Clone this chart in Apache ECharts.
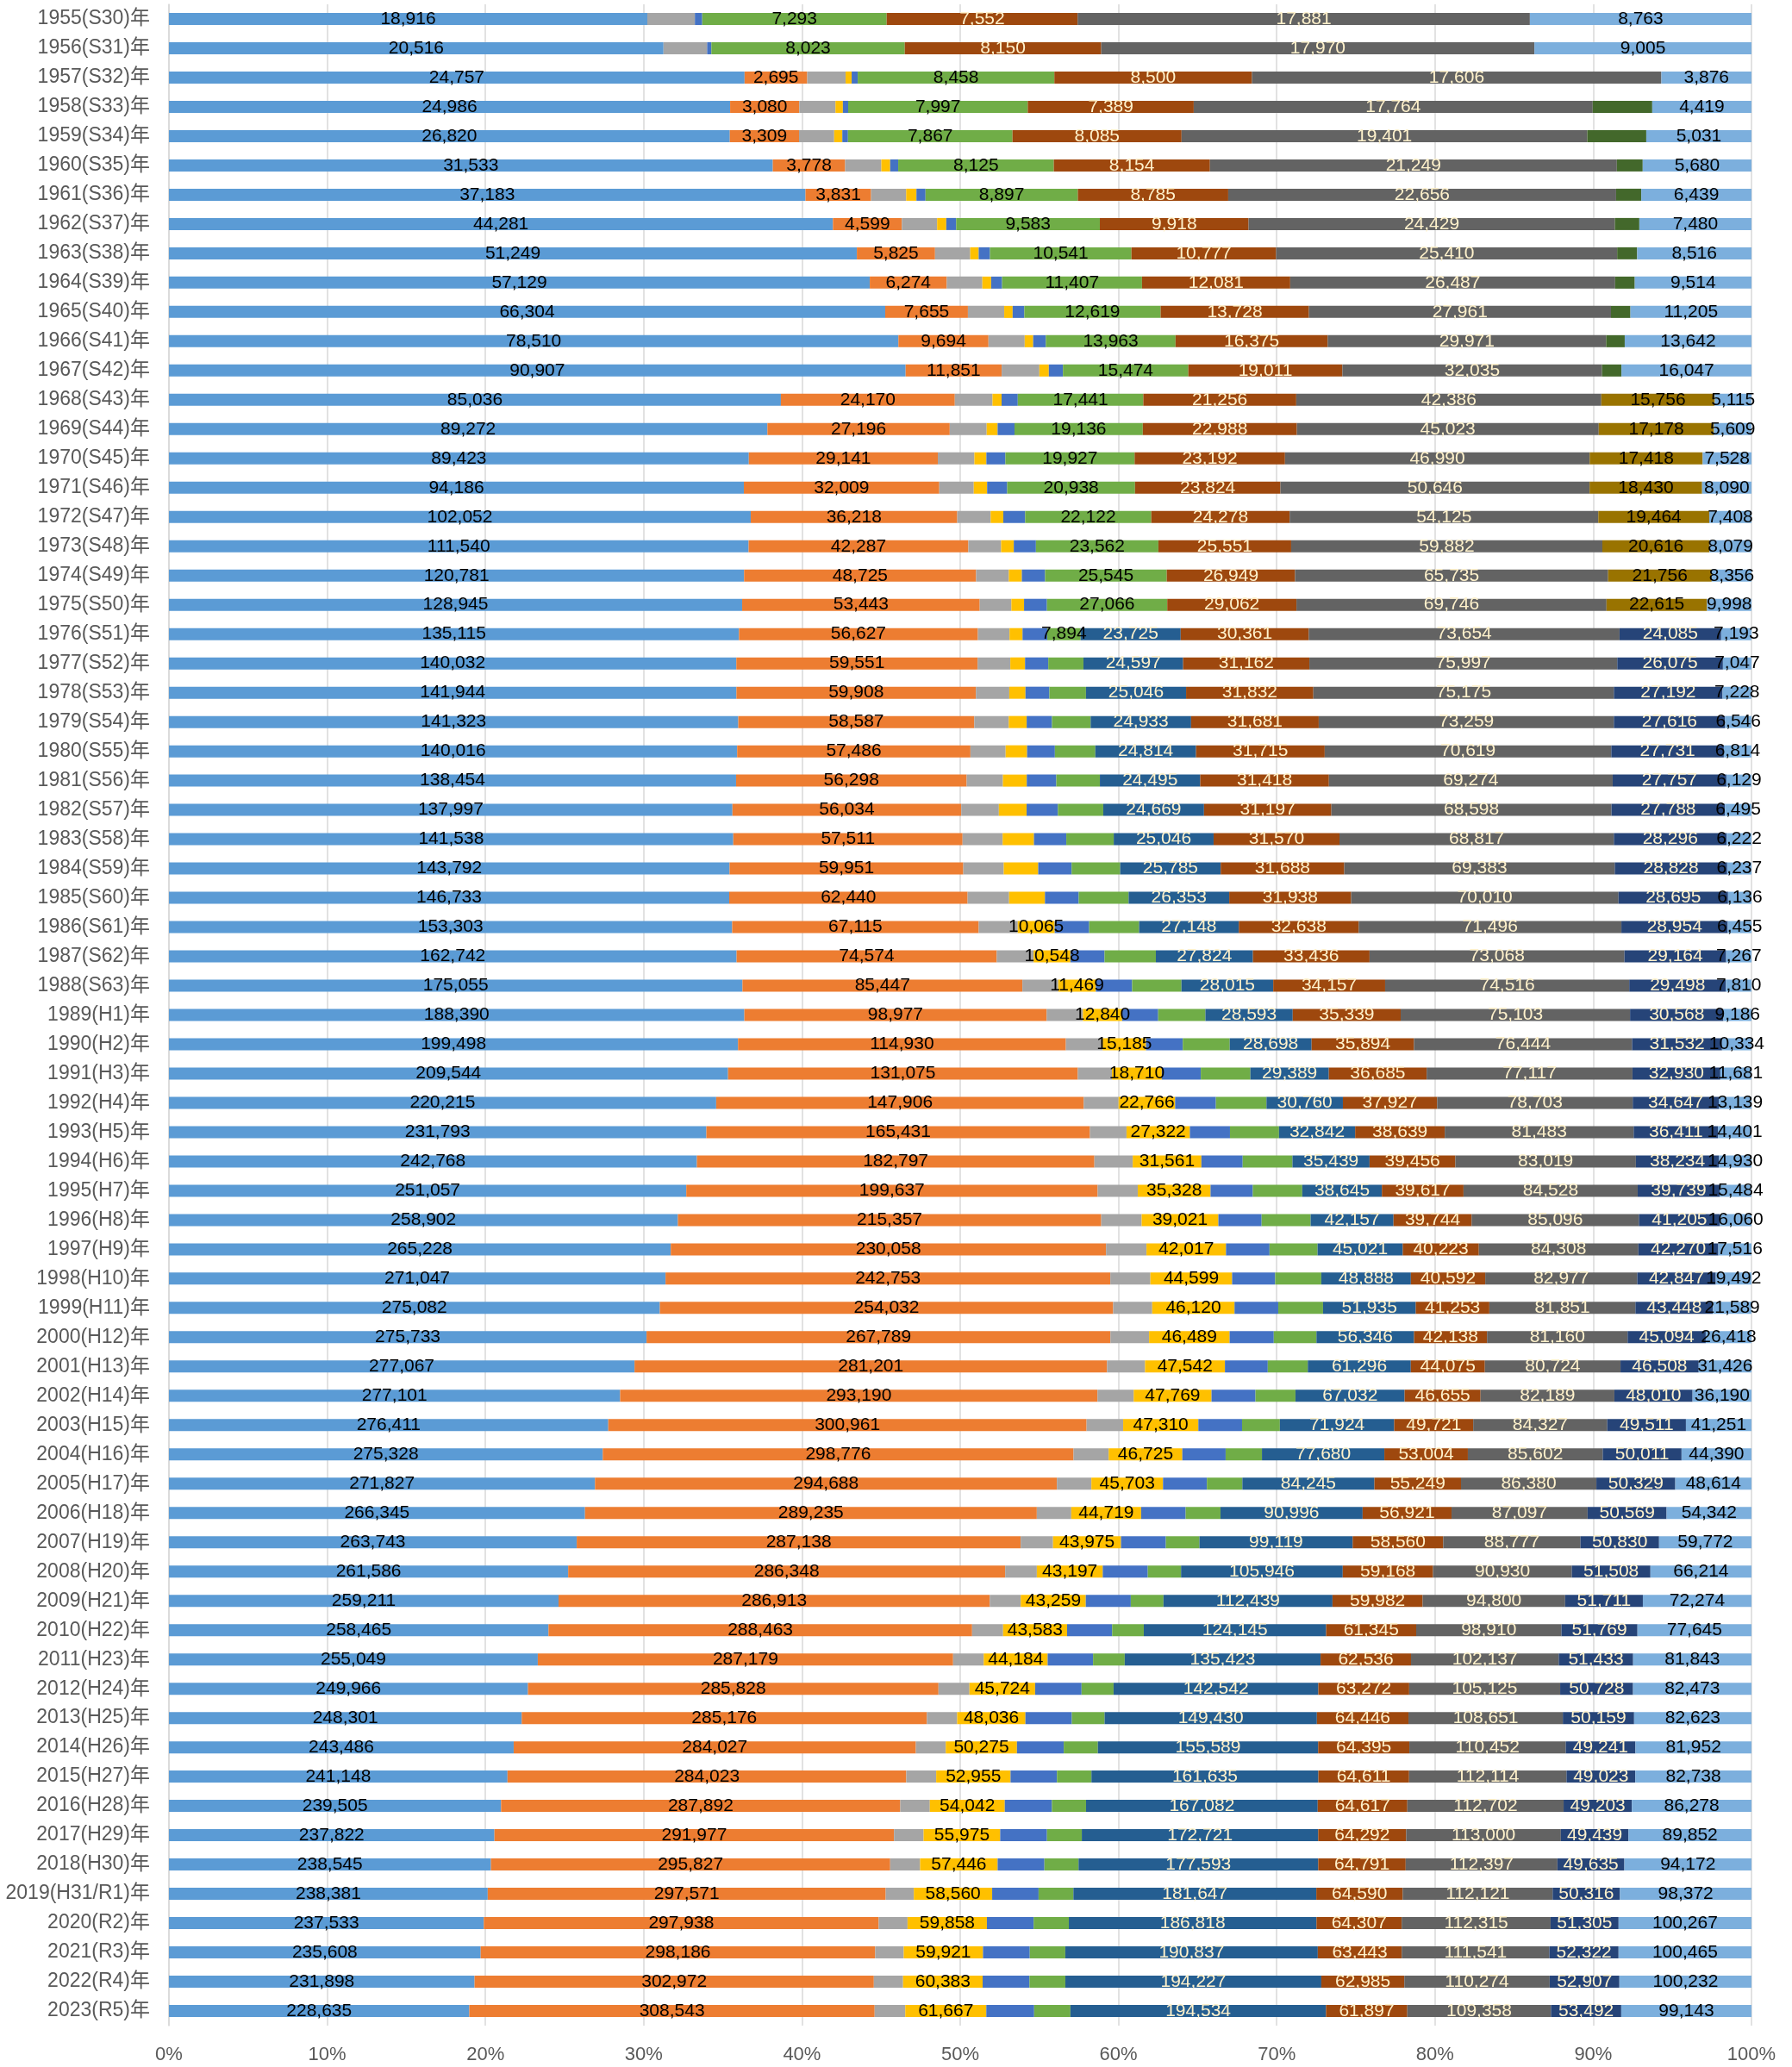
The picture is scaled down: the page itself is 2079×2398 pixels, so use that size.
<!DOCTYPE html>
<html><head><meta charset="utf-8">
<script src="https://cdn.jsdelivr.net/npm/echarts@6/dist/echarts.min.js"></script>
<style>html,body{margin:0;padding:0;background:#fff}#c{width:2079px;height:2398px}</style>
</head><body><div id="c"></div>
<script>
const categories = ["1955(S30)年","1956(S31)年","1957(S32)年","1958(S33)年","1959(S34)年","1960(S35)年","1961(S36)年","1962(S37)年","1963(S38)年","1964(S39)年","1965(S40)年","1966(S41)年","1967(S42)年","1968(S43)年","1969(S44)年","1970(S45)年","1971(S46)年","1972(S47)年","1973(S48)年","1974(S49)年","1975(S50)年","1976(S51)年","1977(S52)年","1978(S53)年","1979(S54)年","1980(S55)年","1981(S56)年","1982(S57)年","1983(S58)年","1984(S59)年","1985(S60)年","1986(S61)年","1987(S62)年","1988(S63)年","1989(H1)年","1990(H2)年","1991(H3)年","1992(H4)年","1993(H5)年","1994(H6)年","1995(H7)年","1996(H8)年","1997(H9)年","1998(H10)年","1999(H11)年","2000(H12)年","2001(H13)年","2002(H14)年","2003(H15)年","2004(H16)年","2005(H17)年","2006(H18)年","2007(H19)年","2008(H20)年","2009(H21)年","2010(H22)年","2011(H23)年","2012(H24)年","2013(H25)年","2014(H26)年","2015(H27)年","2016(H28)年","2017(H29)年","2018(H30)年","2019(H31/R1)年","2020(R2)年","2021(R3)年","2022(R4)年","2023(R5)年"];
const years = categories.map(c => parseInt(c.slice(0,4),10));
const xTicks = [0,10,20,30,40,50,60,70,80,90,100];

const sA = [18916,20516,24757,24986,26820,31533,37183,44281,51249,57129,66304,78510,90907,85036,89272,89423,94186,102052,111540,120781,128945,135115,140032,141944,141323,140016,138454,137997,141538,143792,146733,153303,162742,175055,188390,199498,209544,220215,231793,242768,251057,258902,265228,271047,275082,275733,277067,277101,276411,275328,271827,266345,263743,261586,259211,258465,255049,249966,248301,243486,241148,239505,237822,238545,238381,237533,235608,231898,228635];
const sB = [null,null,2695,3080,3309,3778,3831,4599,5825,6274,7655,9694,11851,24170,27196,29141,32009,36218,42287,48725,53443,56627,59551,59908,58587,57486,56298,56034,57511,59951,62440,67115,74574,85447,98977,114930,131075,147906,165431,182797,199637,215357,230058,242753,254032,267789,281201,293190,300961,298776,294688,289235,287138,286348,286913,288463,287179,285828,285176,284027,284023,287892,291977,295827,297571,297938,298186,302972,308543];
const sC = [1880,1810,1650,1610,1680,1890,2050,2350,2620,2900,3360,3900,4650,5230,5510,5640,5650,5860,6300,6870,7120,7500,8070,8350,8550,8670,8840,9210,10050,10370,10860,10620,10580,10950,11870,12900,12790,14010,15780,17630,19460,20570,21380,21880,21870,22330,22600,22250,23010,22320,21990,22060,20930,20740,20590,21090,21170,21560,21300,21120,21300,21310,21590,22160,21040,21760,21530,22160,23310];
const sD = [null,null,260,330,390,460,600,610,630,720,780,910,1170,1270,1630,1850,2190,2220,2440,2730,2850,3080,3640,4050,4450,5290,5830,6800,7850,8840,9390,10065,10548,11469,12840,15185,18710,22766,27322,31561,35328,39021,42017,44599,46120,46489,47542,47769,47310,46725,45703,44719,43975,43197,43259,43583,44184,45724,48036,50275,52955,54042,55975,57446,58560,59858,59921,60383,61667];
const sE = [290,175,260,235,270,420,530,660,840,890,1080,1360,1740,2250,2520,2930,3290,3830,4260,4880,5150,5870,5730,5980,6280,6850,7210,7660,8110,8570,8840,9380,9780,11070,11800,12900,14600,16400,17300,19000,20500,22000,23000,23500,24500,25500,25500,27000,27500,27500,28000,28500,29000,29500,29950,30670,31400,32340,32690,33050,33070,33990,34190,34670,34710,35290,35360,35520,36430];
const sF = [7293,8023,8458,7997,7867,8125,8897,9583,10541,11407,12619,13963,15474,17441,19136,19927,20938,22122,23562,25545,27066,7894,8680,9150,9600,9960,10640,11110,11900,12450,13070,13590,14720,15060,15460,16460,18590,20350,21150,22890,24000,24930,25400,25180,25100,24630,23820,24560,23790,23050,22630,22300,21720,21800,21740,21560,21900,22290,23030,24100,24550,24610,25450,25280,26030,26540,26850,27240,27590];
const sG = [null,null,null,null,null,null,null,null,null,null,null,null,null,null,null,null,null,null,null,null,null,23725,24597,25046,24933,24814,24495,24669,25046,25785,26353,27148,27824,28015,28593,28698,29389,30760,32842,35439,38645,42157,45021,48888,51935,56346,61296,67032,71924,77680,84245,90996,99119,105946,112439,124145,135423,142542,149430,155589,161635,167082,172721,177593,181647,186818,190837,194227,194534];
const sH = [7552,8150,8500,7389,8085,8154,8785,9918,10777,12081,13728,16375,19011,21256,22988,23192,23824,24278,25551,26949,29062,30361,31162,31832,31681,31715,31418,31197,31570,31688,31938,32638,33436,34157,35339,35894,36685,37927,38639,39456,39617,39744,40223,40592,41253,42138,44075,46655,49721,53004,55249,56921,58560,59168,59982,61345,62536,63272,64446,64395,64611,64617,64292,64791,64590,64307,63443,62985,61897];
const sI = [17881,17970,17606,17764,19401,21249,22656,24429,25410,26487,27961,29971,32035,42386,45023,46990,50646,54125,59882,65735,69746,73654,75997,75175,73259,70619,69274,68598,68817,69383,70010,71496,73068,74516,75103,76444,77117,78703,81483,83019,84528,85096,84308,82977,81851,81160,80724,82189,84327,85602,86380,87097,88777,90930,94800,98910,102137,105125,108651,110452,112114,112702,113000,112397,112121,112315,111541,110274,109358];
const sJ = [null,null,null,2650,2820,1350,1470,1630,1490,1600,1800,2000,2400,null,null,null,null,null,null,null,null,null,null,null,null,null,null,null,null,null,null,null,null,null,null,null,null,null,null,null,null,null,null,null,null,null,null,null,null,null,null,null,null,null,null,null,null,null,null,null,null,null,null,null,null,null,null,null,null];
const sK = [null,null,null,null,null,null,null,null,null,null,null,null,null,15756,17178,17418,18430,19464,20616,21756,22615,null,null,null,null,null,null,null,null,null,null,null,null,null,null,null,null,null,null,null,null,null,null,null,null,null,null,null,null,null,null,null,null,null,null,null,null,null,null,null,null,null,null,null,null,null,null,null,null];
const sL = [null,null,null,null,null,null,null,null,null,null,null,null,null,null,null,null,null,null,null,null,null,24085,26075,27192,27616,27731,27757,27788,28296,28828,28695,28954,29164,29498,30568,31532,32930,34647,36411,38234,39739,41205,42270,42847,43448,45094,46508,48010,49511,50011,50329,50569,50830,51508,51711,51769,51433,50728,50159,49241,49023,49203,49439,49635,50316,51305,52322,52907,53492];
const sM = [8763,9005,3876,4419,5031,5680,6439,7480,8516,9514,11205,13642,16047,5115,5609,7528,8090,7408,8079,8356,9998,7193,7047,7228,6546,6814,6129,6495,6222,6237,6136,6455,7267,7810,9186,10334,11681,13139,14401,14930,15484,16060,17516,19492,21589,26418,31426,36190,41251,44390,48614,54342,59772,66214,72274,77645,81843,82473,82623,81952,82738,86278,89852,94172,98372,100267,100465,100232,99143];

const LIGHT = '#FFF2CC', DARK = '#000000';
const defs = [
  {name:'A', data:sA, color:'#5B9BD5', lab:() => true, lc:DARK},
  {name:'B', data:sB, color:'#ED7D31', lab:() => true, lc:DARK},
  {name:'C', data:sC, color:'#A5A5A5', lab:() => false, lc:DARK},
  {name:'D', data:sD, color:'#FFC000', lab:y => y >= 1986, lc:DARK},
  {name:'E', data:sE, color:'#4472C4', lab:() => false, lc:DARK},
  {name:'F', data:sF, color:'#70AD47', lab:y => y <= 1976, lc:DARK},
  {name:'G', data:sG, color:'#255E91', lab:() => true, lc:LIGHT},
  {name:'H', data:sH, color:'#9E480E', lab:() => true, lc:LIGHT},
  {name:'I', data:sI, color:'#636363', lab:() => true, lc:LIGHT},
  {name:'J', data:sJ, color:'#43682B', lab:() => false, lc:DARK},
  {name:'K', data:sK, color:'#997300', lab:() => true, lc:DARK},
  {name:'L', data:sL, color:'#264478', lab:() => true, lc:LIGHT},
  {name:'M', data:sM, color:'#7CAFDD', lab:() => true, lc:DARK}
];
const totals = categories.map((_, i) => defs.reduce((s, d) => s + (d.data[i] || 0), 0));
const FONT = "'Liberation Sans', Arial, 'Noto Sans CJK JP', sans-serif";

const series = defs.map(d => ({
  name: d.name, type: 'bar', stack: 'total', barWidth: 14,
  itemStyle: {color: d.color},
  label: {show: true, position: 'inside', color: d.lc, fontSize: 21, fontFamily: FONT,
    formatter: p => p.data && p.data.raw != null ? p.data.raw.toLocaleString('en-US') : ''},
  data: d.data.map((v, i) => v == null ? {value: '-', raw: null, label: {show: false}} :
    {value: v / totals[i] * 100, raw: v, label: {show: d.lab(years[i])}})
}));

const chart = echarts.init(document.getElementById('c'), null, {renderer: 'canvas'});
chart.setOption({
  animation: false,
  backgroundColor: '#ffffff',
  grid: {left: 196, right: 47, top: 5, bottom: 48, containLabel: false, outerBoundsMode: 'none'},
  xAxis: {type: 'value', min: xTicks[0], max: xTicks[xTicks.length-1], interval: 10,
    axisLine: {show: false}, axisTick: {show: false},
    splitLine: {show: true, lineStyle: {color: '#D9D9D9', width: 1.5}},
    axisLabel: {formatter: '{value}%', color: '#595959', fontSize: 22, fontFamily: FONT, margin: 23}},
  yAxis: {type: 'category', inverse: true, data: categories,
    axisTick: {show: false}, axisLine: {show: true, lineStyle: {color: '#D9D9D9', width: 1.5}},
    axisLabel: {color: '#595959', fontSize: 23, fontFamily: FONT, margin: 22}},
  series: series
});
</script></body></html>
